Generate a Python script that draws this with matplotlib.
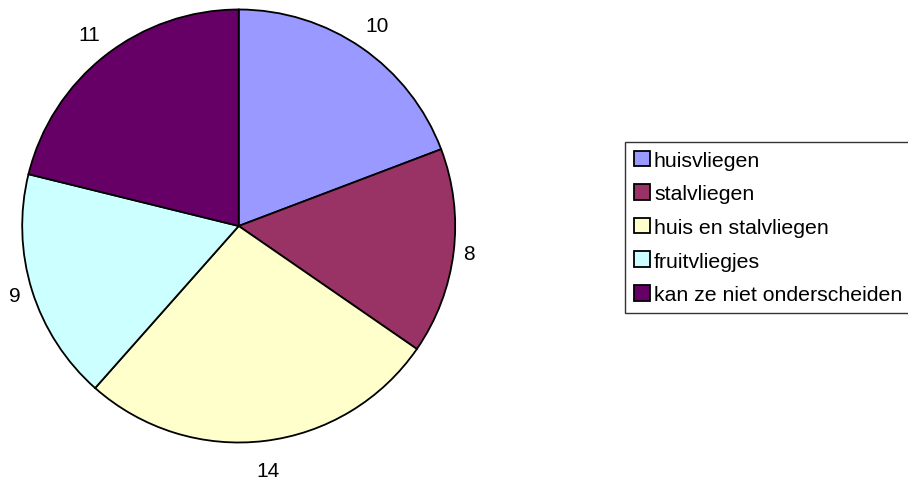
import numpy as np
import matplotlib
matplotlib.use("Agg")
import matplotlib.pyplot as plt

plt.rcParams["font.family"] = ["Liberation Sans", "DejaVu Sans"]

categories = ["huisvliegen", "stalvliegen", "huis en stalvliegen",
              "fruitvliegjes", "kan ze niet onderscheiden"]
counts = [10, 8, 14, 9, 11]
colors = ["#9999FF", "#993366", "#FFFFCC", "#CCFFFF", "#660066"]

W, H = 908, 485
fig = plt.figure(figsize=(W / 100, H / 100), dpi=100)

# pie centre (px from left / bottom) and radius
cx, cy, r = 238.7, 258.0, 216.5
half = 240
ax = fig.add_axes([(cx - half) / W, (cy - half) / H, 2 * half / W, 2 * half / H])
lim = half / r

wedges, _ = ax.pie(counts, colors=colors, startangle=90, counterclock=False,
                   radius=1.0, frame=True,
                   wedgeprops=dict(edgecolor="black", linewidth=1.3))
ax.set_xlim(-lim, lim)
ax.set_ylim(-lim, lim)
ax.set_aspect("equal")
ax.axis("off")

total = sum(counts)
cum = 0
for v in counts:
    mid = np.deg2rad(90 - 360 * (cum + v / 2) / total)
    d = 1.06 + 0.08 * abs(np.sin(mid))
    ax.text(d * np.cos(mid), d * np.sin(mid), str(v), ha="center", va="center",
            fontsize=15, color="black", clip_on=False)
    cum += v

leg = fig.legend(wedges, categories, loc="upper right",
                 bbox_to_anchor=(1.003, 1 - 143 / H),
                 fontsize=15.3, frameon=True, fancybox=False,
                 handlelength=0.75, handleheight=0.75, handletextpad=0.2,
                 labelspacing=0.68, borderpad=0.4, borderaxespad=0)
leg.get_frame().set_edgecolor("black")
leg.get_frame().set_linewidth(1.0)

fig.savefig("out.png", dpi=100)
